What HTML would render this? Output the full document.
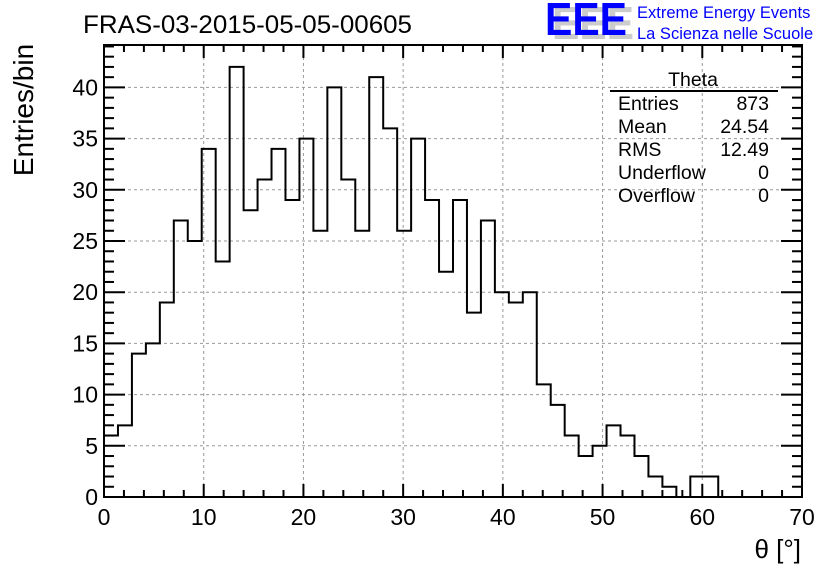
<!DOCTYPE html>
<html><head><meta charset="utf-8"><style>
body{margin:0;background:#fff;}
svg{display:block;font-family:"Liberation Sans",sans-serif;}
</style></head><body>
<svg id="c" width="836" height="572">
<rect width="836" height="572" fill="#fff"/>
<g id="grid"></g>
<g id="ticks"></g>
<path id="hist" fill="none" stroke="#000" stroke-width="2"/>
<rect x="104" y="45" width="698" height="452" fill="none" stroke="#000" stroke-width="2"/>
<g id="labels" font-size="23"></g>
<text x="83" y="33" font-size="25" textLength="329" lengthAdjust="spacingAndGlyphs">FRAS-03-2015-05-05-00605</text>
<text transform="translate(33,110) rotate(-90)" text-anchor="middle" font-size="28">Entries/bin</text>
<text x="801" y="558" text-anchor="end" font-size="26">θ [°]</text>
<g font-size="46" font-weight="bold">
<text x="552" y="39" fill="#ccc" textLength="82" lengthAdjust="spacingAndGlyphs">EEE</text>
<text x="545" y="35" fill="#0000ff" textLength="82" lengthAdjust="spacingAndGlyphs">EEE</text>
</g>
<text x="637" y="18" font-size="16.5" fill="#0000ff">Extreme Energy Events</text>
<text x="637" y="39" font-size="16.5" fill="#0000ff">La Scienza nelle Scuole</text>
<g font-size="19.5">
<text x="693" y="86" text-anchor="middle">Theta</text>
<line x1="610" y1="91" x2="778" y2="91" stroke="#000" stroke-width="2"/>
<text x="618" y="110">Entries</text><text x="769" y="110" text-anchor="end">873</text>
<text x="618" y="133">Mean</text><text x="769" y="133" text-anchor="end">24.54</text>
<text x="618" y="156">RMS</text><text x="769" y="156" text-anchor="end">12.49</text>
<text x="618" y="179">Underflow</text><text x="769" y="179" text-anchor="end">0</text>
<text x="618" y="202">Overflow</text><text x="769" y="202" text-anchor="end">0</text>
</g>
</svg>
<script>
const binWidth = 1.4;
const counts = [6,7,14,15,19,27,25,34,23,42,28,31,34,29,35,26,40,31,26,41,36,26,35,29,22,29,18,27,20,19,20,11,9,6,4,5,7,6,4,2,1,0,2,2];
const xTickLabels = [0,10,20,30,40,50,60,70];
const yTickLabels = [0,5,10,15,20,25,30,35,40];
const X0=104,X1=802,Y0=497,Y1=45,XMAX=70,YMAX=(497-45)/10.24;
const sx=v=>X0+v/XMAX*(X1-X0), sy=v=>Y0-v/YMAX*(Y0-Y1);
const NS="http://www.w3.org/2000/svg";
function mk(tag,attrs,parent){const e=document.createElementNS(NS,tag);for(const k in attrs)e.setAttribute(k,attrs[k]);parent.appendChild(e);return e;}
let d="M"+sx(0)+","+sy(0);
counts.forEach((c,i)=>{d+=" L"+sx(i*binWidth)+","+sy(c)+" L"+sx((i+1)*binWidth)+","+sy(c);});
d+=" L"+sx(counts.length*binWidth)+","+sy(0);
document.getElementById('hist').setAttribute('d',d);
const g=document.getElementById('grid'),t=document.getElementById('ticks'),L=document.getElementById('labels');
xTickLabels.forEach(v=>{
 const x=sx(v);
 if(v>0&&v<XMAX){const l=mk('line',{x1:x,x2:x,y1:Y1,y2:Y0,stroke:'#999','stroke-dasharray':'3,3'},g);
 
 }
 const tx=mk('text',{x:x,y:Y0+28,'text-anchor':'middle'},L);tx.textContent=v;
 
 
});
for(let v=0;v<=XMAX;v+=2){const x=sx(v),len=(v%10===0)?13:7;
 mk('line',{x1:x,x2:x,y1:Y0,y2:Y0-len,stroke:'#000','stroke-width':2},t);
 mk('line',{x1:x,x2:x,y1:Y1,y2:Y1+len,stroke:'#000','stroke-width':2},t);}
yTickLabels.forEach(v=>{
 const y=sy(v);
 if(v>0){const l=mk('line',{x1:X0,x2:X1,y1:y,y2:y,stroke:'#999','stroke-dasharray':'3,3'},g);
 
 }
 const tx=mk('text',{x:X0-6,y:y+8,'text-anchor':'end'},L);tx.textContent=v;
 
 
});
for(let v=0;v<=44;v++){const y=sy(v),len=(v%5===0)?21:10;
 mk('line',{x1:X0,x2:X0+len,y1:y,y2:y,stroke:'#000','stroke-width':2},t);
 mk('line',{x1:X1,x2:X1-len,y1:y,y2:y,stroke:'#000','stroke-width':2},t);}
</script>
</body></html>
